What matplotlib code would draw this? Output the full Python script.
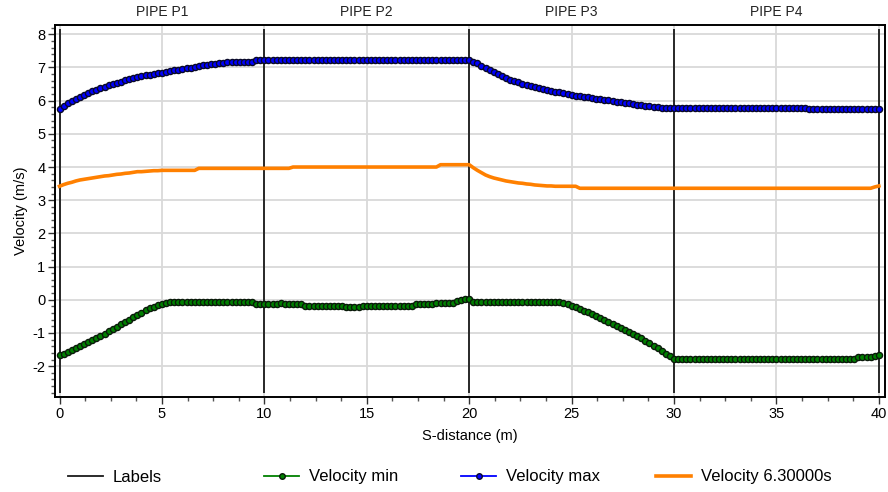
import numpy as np
import matplotlib
matplotlib.use("Agg")
import matplotlib.pyplot as plt
from matplotlib.lines import Line2D
from matplotlib.transforms import blended_transform_factory

plt.rcParams['font.family'] = ['Liberation Sans', 'DejaVu Sans']
plt.rcParams['axes.unicode_minus'] = False

# ---------------- data ----------------
s_distance = [round(0.2 * i, 1) for i in range(201)]

vel_max = ([5.75, 5.84, 5.92, 5.99, 6.06, 6.12, 6.17, 6.22, 6.28, 6.33,
            6.38, 6.42, 6.46, 6.50, 6.54, 6.57, 6.61, 6.64, 6.68, 6.71,
            6.73, 6.76, 6.78, 6.80, 6.82, 6.84, 6.86, 6.89, 6.91, 6.93,
            6.95, 6.97, 6.99, 7.01, 7.04, 7.06, 7.08, 7.09, 7.11, 7.12,
            7.13, 7.15, 7.17, 7.17, 7.18, 7.18, 7.18, 7.18]
           + [7.23] * 53
           + [7.18, 7.12, 7.05, 6.98, 6.92, 6.86, 6.80, 6.73, 6.67, 6.63,
              6.59, 6.55, 6.51, 6.48, 6.44, 6.41, 6.37, 6.35, 6.32, 6.30,
              6.27, 6.25, 6.22, 6.20, 6.17, 6.15, 6.14, 6.12, 6.10, 6.08,
              6.06, 6.05, 6.03, 6.01, 5.99, 5.97, 5.95, 5.93, 5.92, 5.90,
              5.88, 5.86, 5.84, 5.83, 5.81, 5.80, 5.78, 5.77, 5.77]
           + [5.77] * 33
           + [5.74] * 18)

vel_630 = ([3.42, 3.47, 3.51, 3.54, 3.58, 3.61, 3.63, 3.65, 3.67, 3.69,
            3.71, 3.73, 3.74, 3.76, 3.78, 3.79, 3.81, 3.82, 3.84, 3.86,
            3.86, 3.87, 3.88, 3.89, 3.89]
           + [3.90] * 9
           + [3.96] * 23
           + [4.00] * 36
           + [4.07] * 8
           + [3.98, 3.90, 3.83, 3.76, 3.71, 3.67, 3.64, 3.61, 3.58, 3.56,
              3.54, 3.52, 3.51, 3.49, 3.48, 3.46, 3.45, 3.44, 3.43, 3.43,
              3.42, 3.42, 3.42, 3.42, 3.42, 3.42]
           + [3.36] * 72
           + [3.40, 3.43])

vel_min = ([-1.67, -1.62, -1.57, -1.51, -1.45, -1.39, -1.33, -1.27, -1.21, -1.15,
            -1.08, -1.02, -0.95, -0.88, -0.81, -0.74, -0.67, -0.60, -0.53, -0.46,
            -0.39, -0.32, -0.26, -0.21, -0.16, -0.12, -0.09]
           + [-0.08] * 21
           + [-0.14] * 6
           + [-0.09]
           + [-0.14] * 5
           + [-0.18] * 10
           + [-0.23] * 4
           + [-0.18] * 13
           + [-0.14] * 5
           + [-0.09] * 5
           + [-0.03, -0.01, 0.01, 0.02]
           + [-0.06] * 21
           + [-0.07, -0.10, -0.14, -0.19, -0.23, -0.28, -0.33, -0.38, -0.43, -0.48,
              -0.54, -0.60, -0.66, -0.72, -0.78, -0.84, -0.90, -0.96, -1.02, -1.09,
              -1.16, -1.23, -1.30, -1.38, -1.46, -1.54, -1.62, -1.69]
           + [-1.79] * 45
           + [-1.72] * 4
           + [-1.68, -1.67])

label_positions = [0, 10, 20, 30, 40]
pipe_names = ["PIPE P1", "PIPE P2", "PIPE P3", "PIPE P4"]
pipe_centers = [5, 15, 25, 35]
label_ymin, label_ymax = -2.81, 8.16

x_ticks = [0, 5, 10, 15, 20, 25, 30, 35, 40]
y_ticks = [-2, -1, 0, 1, 2, 3, 4, 5, 6, 7, 8]

legend_labels = ["Labels", "Velocity min", "Velocity max", "Velocity 6.30000s"]

# ---------------- figure ----------------
fig = plt.figure(figsize=(8.88, 4.92), dpi=100)
ax = fig.add_axes([55 / 888, 1 - 397 / 492, 830 / 888, 372 / 492])

ax.set_xlim(-0.22, 40.3)
ax.set_ylim(-2.93, 8.28)

ax.grid(True, which='major', color='#d9d9d9', linewidth=1.3, zorder=0)
ax.set_axisbelow(True)

ax.vlines(label_positions, label_ymin, label_ymax, colors='#1a1a1a',
          linewidth=1.3, zorder=2)

ax.plot(s_distance, vel_630, color='#ff8000', linewidth=2.6, zorder=3)
ax.plot(s_distance, vel_min, color='#008000', linewidth=1.0, marker='o',
        markersize=4.4, markerfacecolor='#008000', markeredgecolor='#0a1a0a',
        markeredgewidth=1.0, zorder=4)
ax.plot(s_distance, vel_max, color='#0000ff', linewidth=1.0, marker='o',
        markersize=4.4, markerfacecolor='#0000ff', markeredgecolor='#0a0a2a',
        markeredgewidth=1.0, zorder=4)

ax.set_xticks(x_ticks)
ax.set_yticks(y_ticks)
ax.set_xticks(np.arange(0, 40.01, 1.25), minor=True)
ax.set_yticks(np.arange(-2.8, 8.21, 0.2), minor=True)
ax.tick_params(axis='both', which='major', direction='out', length=5,
               width=1.0, labelsize=10.5, color='#333333', pad=2)
ax.tick_params(axis='both', which='minor', direction='out', length=3,
               width=1.0, color='#555555')

for sp in ax.spines.values():
    sp.set_linewidth(1.4)
    sp.set_color('black')

ax.set_xlabel("S-distance (m)", fontsize=10.5, labelpad=6)
ax.set_ylabel("Velocity (m/s)", fontsize=10.5, labelpad=3)

trans = blended_transform_factory(ax.transData, ax.transAxes)
for name, cx in zip(pipe_names, pipe_centers):
    ax.text(cx, 1.035, name, transform=trans, ha='center', va='center',
            fontsize=10, color='#222222')

handles = [
    Line2D([], [], color='#1a1a1a', linewidth=1.3),
    Line2D([], [], color='#008000', linewidth=1.3, marker='o', markersize=4,
           markerfacecolor='#008000', markeredgecolor='#0a1a0a'),
    Line2D([], [], color='#0000ff', linewidth=1.3, marker='o', markersize=4,
           markerfacecolor='#0000ff', markeredgecolor='#0a0a2a'),
    Line2D([], [], color='#ff8000', linewidth=2.6),
]
legend_x_px = [68, 264, 461, 656]
for h, lab, xp in zip(handles, legend_labels, legend_x_px):
    fig.legend([h], [lab], loc='center left',
               bbox_to_anchor=(xp / 888, 1 - 477 / 492),
               frameon=False, fontsize=12, handlelength=2.1,
               handletextpad=0.6, borderpad=0, borderaxespad=0)

fig.savefig("out.png", dpi=100)
